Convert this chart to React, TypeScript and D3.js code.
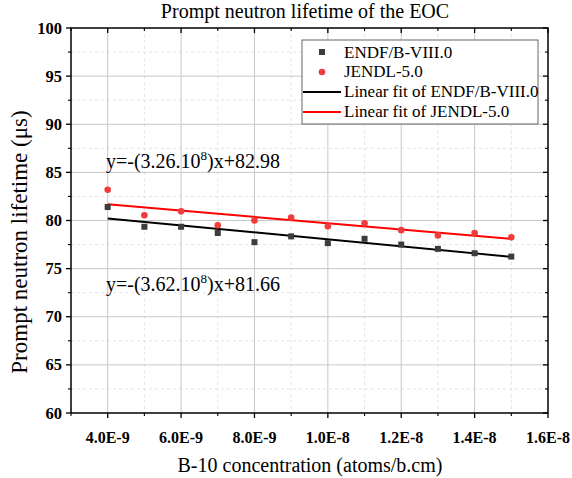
import React from "react";
import * as d3 from "d3";

const xValues = [4e-9, 5e-9, 6e-9, 7e-9, 8e-9, 9e-9, 1e-8, 1.1e-8, 1.2e-8, 1.3e-8, 1.4e-8, 1.5e-8];
const endfValues = [81.4, 79.35, 79.35, 78.7, 77.75, 78.35, 77.65, 78.1, 77.5, 77.05, 76.6, 76.25];
const jendlValues = [83.2, 80.55, 80.95, 79.5, 80.0, 80.3, 79.4, 79.7, 79.0, 78.45, 78.7, 78.25];
const fitSlopes = [-3.62e8, -3.26e8];
const fitIntercepts = [81.66, 82.98];
const xTickValues = [4e-9, 6e-9, 8e-9, 1e-8, 1.2e-8, 1.4e-8, 1.6e-8];
const xTickLabels = ["4.0E-9", "6.0E-9", "8.0E-9", "1.0E-8", "1.2E-8", "1.4E-8", "1.6E-8"];
const yTickValues = [60, 65, 70, 75, 80, 85, 90, 95, 100];
const legendLabels = ["ENDF/B-VIII.0", "JENDL-5.0", "Linear fit of ENDF/B-VIII.0", "Linear fit of JENDL-5.0"];
const equationLabels = ["y=-(3.62.10", ")x+81.66", "y=-(3.26.10", ")x+82.98"];

const W = 572, H = 478;
const L = 71, R = 548, T = 28, B = 413;
const font = "'Liberation Serif', 'Times New Roman', serif";
const RED = "#f03c3c";
const DARK = "#3c3c3c";

export default function App() {
  const x = d3.scaleLinear().domain([3e-9, 1.6e-8]).range([L, R]);
  const y = d3.scaleLinear().domain([60, 100]).range([B, T]);
  const minorX = d3.range(5e-9, 1.6e-8, 2e-9);
  const minorY = d3.range(62.5, 100, 5);
  const fitLine = (i: number) =>
    d3.line<number>().x((d) => x(d)).y((d) => y(fitSlopes[i] * d + fitIntercepts[i]))([4e-9, 1.5e-8]) || "";

  return (
    <svg width={W} height={H} style={{ position: "absolute", left: 0, top: 0, background: "#fff" }} fontFamily={font}>
      <rect x={0} y={0} width={W} height={H} fill="#fff" />
      {/* grid */}
      {minorX.map((v, i) => (
        <line key={"mx" + i} x1={x(v)} x2={x(v)} y1={T} y2={B} stroke="#dcdcdc" strokeWidth={0.8} strokeDasharray="3,3" />
      ))}
      {minorY.map((v, i) => (
        <line key={"my" + i} x1={L} x2={R} y1={y(v)} y2={y(v)} stroke="#dcdcdc" strokeWidth={0.8} strokeDasharray="3,3" />
      ))}
      {xTickValues.slice(0, -1).map((v, i) => (
        <line key={"gx" + i} x1={x(v)} x2={x(v)} y1={T} y2={B} stroke="#c8c8c8" strokeWidth={1} />
      ))}
      {yTickValues.slice(1, -1).map((v, i) => (
        <line key={"gy" + i} x1={L} x2={R} y1={y(v)} y2={y(v)} stroke="#c8c8c8" strokeWidth={1} />
      ))}
      {/* frame */}
      <rect x={L} y={T} width={R - L} height={B - T} fill="none" stroke="#000" strokeWidth={1.5} />
      {/* ticks */}
      {xTickValues.map((v, i) => (
        <g key={"xt" + i}>
          <line x1={x(v)} x2={x(v)} y1={B} y2={B + 5} stroke="#000" strokeWidth={1.3} />
          <line x1={x(v)} x2={x(v)} y1={T} y2={T + 5} stroke="#000" strokeWidth={1.3} />
          <text x={x(v)} y={443} textAnchor="middle" fontSize={16} fontWeight="bold">{xTickLabels[i]}</text>
        </g>
      ))}
      {[3e-9, ...minorX].map((v, i) => (
        <g key={"xm" + i}>
          <line x1={x(v)} x2={x(v)} y1={B} y2={B + 3} stroke="#000" strokeWidth={1.1} />
          <line x1={x(v)} x2={x(v)} y1={T} y2={T + 3} stroke="#000" strokeWidth={1.1} />
        </g>
      ))}
      {yTickValues.map((v, i) => (
        <g key={"yt" + i}>
          <line x1={L - 5} x2={L} y1={y(v)} y2={y(v)} stroke="#000" strokeWidth={1.3} />
          <line x1={R - 5} x2={R} y1={y(v)} y2={y(v)} stroke="#000" strokeWidth={1.3} />
          <text x={L - 9} y={y(v) + 5.5} textAnchor="end" fontSize={16.5} fontWeight="bold">{v}</text>
        </g>
      ))}
      {minorY.map((v, i) => (
        <g key={"ym" + i}>
          <line x1={L - 3} x2={L} y1={y(v)} y2={y(v)} stroke="#000" strokeWidth={1.1} />
          <line x1={R - 3} x2={R} y1={y(v)} y2={y(v)} stroke="#000" strokeWidth={1.1} />
        </g>
      ))}
      {/* fit lines */}
      <path d={fitLine(0)} stroke="#000" strokeWidth={2} fill="none" />
      <path d={fitLine(1)} stroke="#ff0000" strokeWidth={2} fill="none" />
      {/* points */}
      {xValues.map((v, i) => (
        <rect key={"e" + i} x={x(v) - 3} y={y(endfValues[i]) - 3} width={6} height={6} fill={DARK} />
      ))}
      {xValues.map((v, i) => (
        <circle key={"j" + i} cx={x(v)} cy={y(jendlValues[i])} r={3.3} fill={RED} />
      ))}
      {/* equations */}
      <text x={106} y={168} fontSize={20}>
        {equationLabels[2]}<tspan dy={-8} fontSize={13}>8</tspan><tspan dy={8}>{equationLabels[3]}</tspan>
      </text>
      <text x={106} y={291} fontSize={20}>
        {equationLabels[0]}<tspan dy={-8} fontSize={13}>8</tspan><tspan dy={8}>{equationLabels[1]}</tspan>
      </text>
      {/* legend */}
      <rect x={302} y={40} width={236} height={84} fill="#fff" stroke="#666" strokeWidth={1} />
      <rect x={319} y={49} width={6} height={6} fill={DARK} />
      <circle cx={322} cy={72} r={3.3} fill={RED} />
      <line x1={303} x2={341} y1={92} y2={92} stroke="#000" strokeWidth={2} />
      <line x1={303} x2={341} y1={112} y2={112} stroke="#ff0000" strokeWidth={2} />
      {legendLabels.map((t, i) => (
        <text key={"lg" + i} x={344} y={57.5 + i * 19.8} fontSize={17}>{t}</text>
      ))}
      {/* titles */}
      <text x={305} y={18} textAnchor="middle" fontSize={20}>Prompt neutron lifetime of the EOC</text>
      <text x={310} y={472} textAnchor="middle" fontSize={20}>B-10 concentration (atoms/b.cm)</text>
      <text transform={`translate(27,242) rotate(-90)`} textAnchor="middle" fontSize={23}>Prompt neutron lifetime (μs)</text>
    </svg>
  );
}
